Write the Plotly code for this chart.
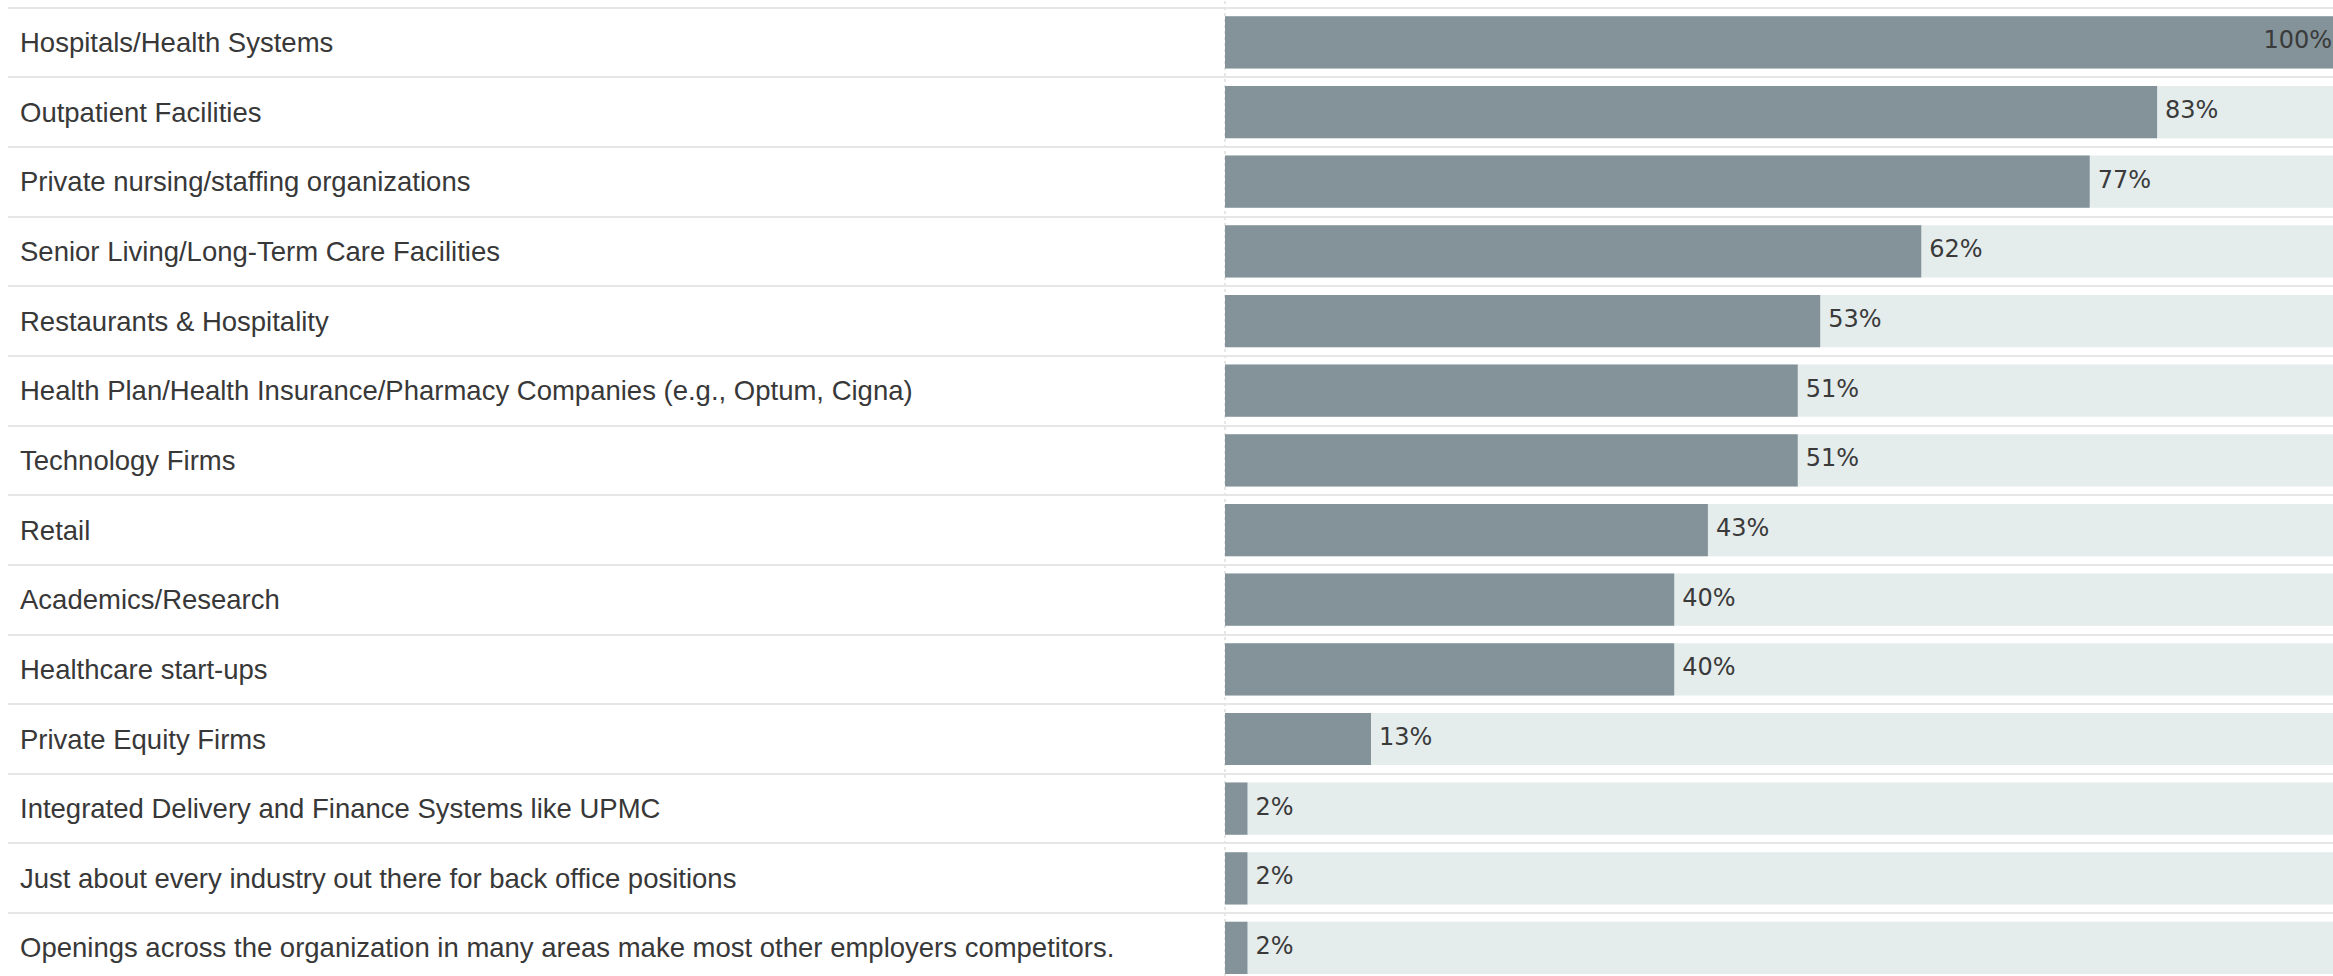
import plotly.graph_objects as go

# Survey responses: which employers are seen as competitors for talent
categories = [
    "Hospitals/Health Systems",
    "Outpatient Facilities",
    "Private nursing/staffing organizations",
    "Senior Living/Long-Term Care Facilities",
    "Restaurants & Hospitality",
    "Health Plan/Health Insurance/Pharmacy Companies (e.g., Optum, Cigna)",
    "Technology Firms",
    "Retail",
    "Academics/Research",
    "Healthcare start-ups",
    "Private Equity Firms",
    "Integrated Delivery and Finance Systems like UPMC",
    "Just about every industry out there for back office positions",
    "Openings across the organization in many areas make most other employers competitors.",
]
percent = [100, 83, 77, 62, 53, 51, 51, 43, 40, 40, 13, 2, 2, 2]
track_max = 100

# Page geometry (pixels)
W, H = 2333, 976
LEFT_PX = 8          # where the row rules start
ZERO_PX = 1225       # left edge of the bars
PX_PER_100 = 1123    # bar length for 100%
ROW0_PX = 42.4       # centre of the first row
ROW_PX = 69.66       # row pitch

px_per_unit = PX_PER_100 / 100.0
x_range = [-(ZERO_PX - LEFT_PX) / px_per_unit, (W - ZERO_PX) / px_per_unit]
y_range = [(H - ROW0_PX) / ROW_PX, -ROW0_PX / ROW_PX]

BAR_COLOR = "#839399"
TRACK_COLOR = "#e4ecec"
RULE_COLOR = "#e6e6e6"
TEXT_COLOR = "#383838"

fig = go.Figure()

# full-length track behind each bar
fig.add_trace(go.Bar(
    x=[track_max] * len(categories), y=categories, orientation="h",
    marker=dict(color=TRACK_COLOR, line=dict(width=0)),
    width=0.75, hoverinfo="skip", showlegend=False,
))

# value bars
fig.add_trace(go.Bar(
    x=percent, y=categories, orientation="h",
    marker=dict(color=BAR_COLOR, line=dict(width=0)),
    width=0.75, hoverinfo="skip", showlegend=False,
))

# value labels: after the bar end, or tucked inside when the bar fills the track
inside = [v >= 95 for v in percent]
positions = ["middle left" if i else "middle right" for i in inside]
# hidden markers set the gap between the bar end and its label
gap_sizes = [24 if i else 11.2 for i in inside]
fig.add_trace(go.Scatter(
    x=percent, y=categories, mode="markers+text",
    text=[f"{v}%" for v in percent], textposition=positions,
    marker=dict(size=gap_sizes, color="rgba(0,0,0,0)", opacity=0,
                line=dict(width=0, color="rgba(0,0,0,0)")),
    textfont=dict(family="DejaVu Sans", size=24, color="#3a3a3a"),
    hoverinfo="skip", showlegend=False,
))

# category names on the left
for c in categories:
    fig.add_annotation(
        x=18 / W, xref="paper", y=c, yref="y",
        text=c, showarrow=False, xanchor="left", yanchor="middle",
        font=dict(family="Liberation Sans", size=27.5, color=TEXT_COLOR),
    )

# faint dotted baseline at zero
fig.add_shape(
    type="line", xref="x", yref="paper", x0=0, x1=0, y0=0, y1=1,
    line=dict(color="#cfcfcf", width=1, dash="dot"), layer="below",
)

fig.update_layout(
    width=W, height=H,
    margin=dict(l=0, r=0, t=0, b=0),
    paper_bgcolor="white", plot_bgcolor="white",
    barmode="overlay",
    xaxis=dict(domain=[LEFT_PX / W, 1], range=x_range, visible=False,
               showgrid=False, zeroline=False, fixedrange=True),
    yaxis=dict(type="category", categoryorder="array", categoryarray=categories,
               range=y_range, tickson="boundaries", showgrid=True,
               gridcolor=RULE_COLOR, gridwidth=2, showticklabels=False,
               ticks="", zeroline=False, showline=False, fixedrange=True),
)

fig.write_html("out.html", config={"displayModeBar": False})
